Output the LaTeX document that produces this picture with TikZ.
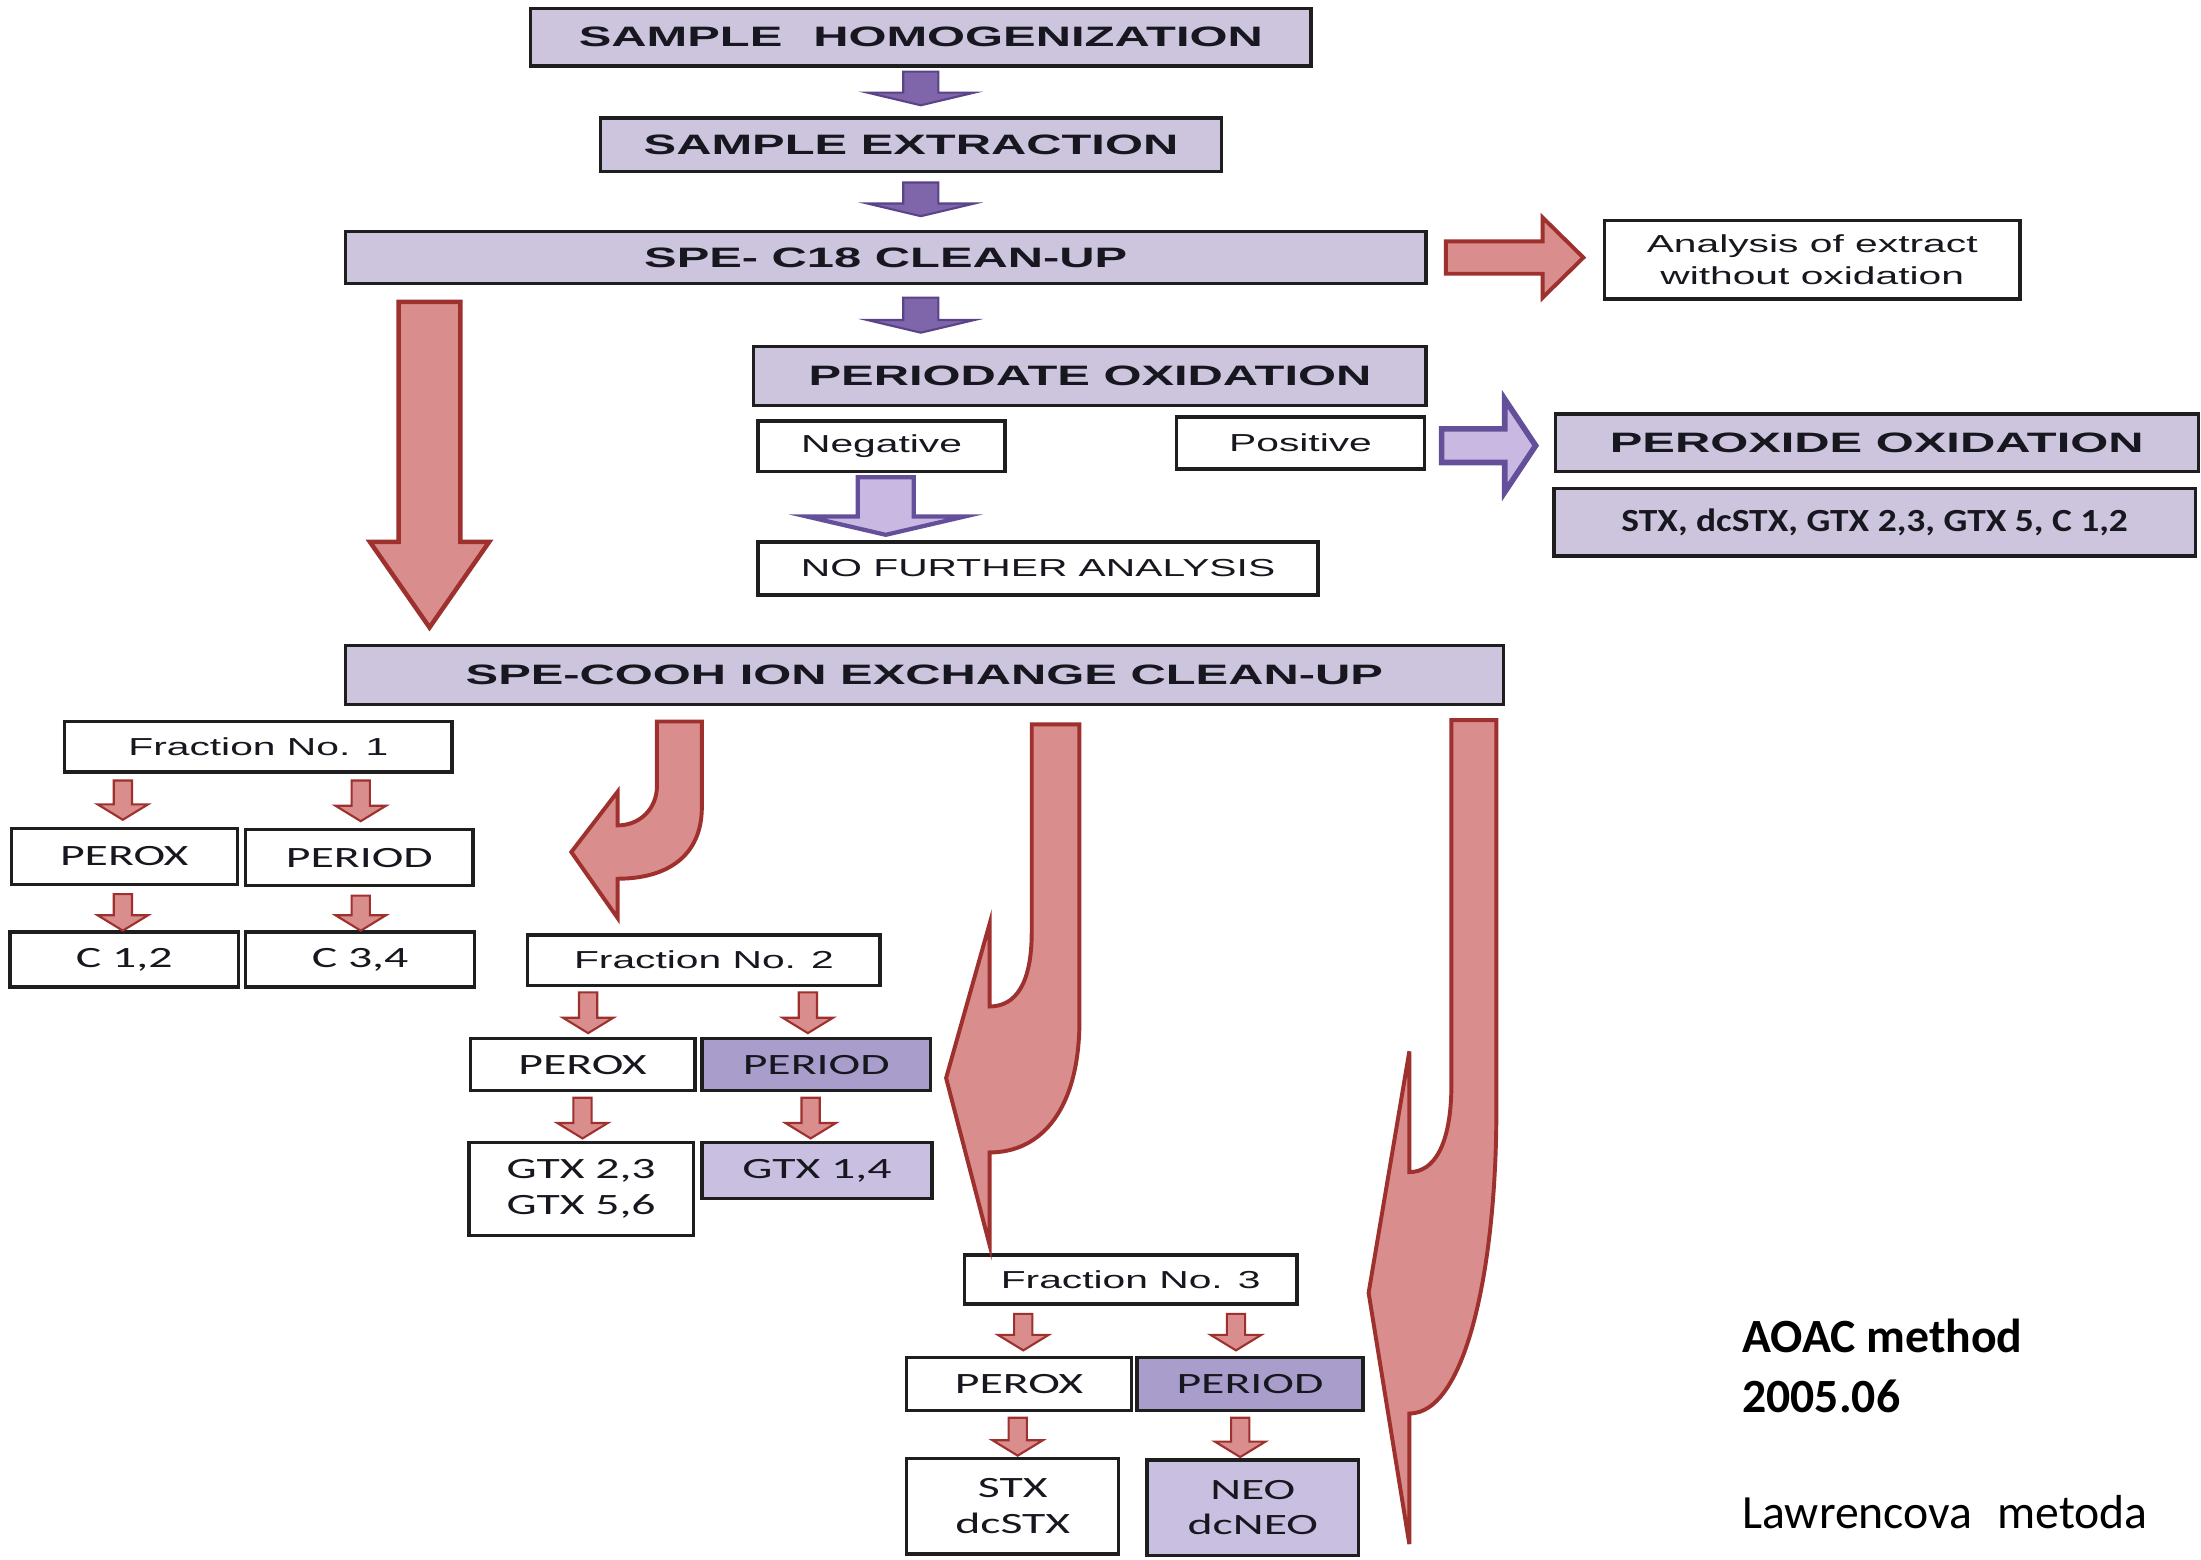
\documentclass[tikz,border=0pt]{standalone}
\usepackage{fontspec}
\setmainfont{Liberation Sans}
\newfontfamily\hdrfont[FakeStretch=1.74]{Liberation Sans}
\newfontfamily\lblfont[FakeStretch=1.66]{Liberation Sans}
\newfontfamily\calfont[FakeStretch=1.62]{Carlito}
\newfontfamily\listfont[FakeStretch=1.16]{Carlito}
\newfontfamily\notefont{Carlito}
\usetikzlibrary{calc}

\definecolor{boxline}{HTML}{1E1E1E}
\definecolor{ink}{HTML}{17171F}
\definecolor{lav}{HTML}{CDC4DD}
\definecolor{lavdark}{HTML}{A99DCB}
\definecolor{lavlight}{HTML}{C9BFE0}
\definecolor{redfill}{HTML}{D98E8D}
\definecolor{redline}{HTML}{9E302E}
\definecolor{purfill}{HTML}{7F66AB}
\definecolor{purline}{HTML}{5A4388}
\definecolor{purlight}{HTML}{C9B8E2}
\definecolor{purmid}{HTML}{64509A}

% vertical block arrow: shaft from #2 down to tip at the height of #3
\newcommand\blkdown[6]{%
  \path[#1] let \p1=#2, \p2=#3 in
    (\x1-#4,\y1) -- (\x1-#4,\y2+#6) -- (\x1-#5,\y2+#6) -- (\x1,\y2)
    -- (\x1+#5,\y2+#6) -- (\x1+#4,\y2+#6) -- (\x1+#4,\y1) -- cycle;}
% horizontal block arrow: shaft from #2 right to tip at the abscissa of #3
\newcommand\blkright[6]{%
  \path[#1] let \p1=#2, \p2=#3 in
    (\x1,\y1-#4) -- (\x2-#6,\y1-#4) -- (\x2-#6,\y1-#5) -- (\x2,\y1)
    -- (\x2-#6,\y1+#5) -- (\x2-#6,\y1+#4) -- (\x1,\y1+#4) -- cycle;}

\tikzset{
  box/.style={draw=boxline, line width=2.4pt, fill=lav, inner sep=0pt,
    outer sep=0pt, text=ink},
  wbox/.style={box, fill=white},
  dbox/.style={box, fill=lavdark},
  lbox/.style={box, fill=lavlight},
  hdr/.style={font=\hdrfont\bfseries\fontsize{20}{22}\selectfont},
  lbl/.style={font=\lblfont\fontsize{17.5}{23}\selectfont, align=center},
  cal/.style={font=\calfont\fontsize{21}{25.4}\selectfont, align=center},
  redsmall/.style={fill=redfill, draw=redline, line width=1.5pt},
  redbig/.style={fill=redfill, draw=redline, line width=2.8pt, line join=miter},
  pursmall/.style={fill=purfill, draw=purline, line width=1.5pt},
  purbig/.style={fill=purlight, draw=purmid, line width=3pt, line join=miter},
}

\begin{document}
\begin{tikzpicture}[x=1pt,y=-1pt]
\useasboundingbox[fill=white] (0,0) rectangle (1568,1111);

% main sequence
\node[box, hdr, minimum width=556pt, minimum height=41pt] (homog) at (656,26.5)
  {SAMPLE\hspace{1.1em}HOMOGENIZATION};
\node[box, hdr, minimum width=442pt, minimum height=38pt] (extr) at (649,103)
  {SAMPLE EXTRACTION};
\node[box, hdr, minimum width=770pt, minimum height=37pt] (c18) at (631,183.5)
  {SPE- C18 CLEAN-UP};
\node[wbox, lbl, minimum width=296pt, minimum height=56pt] (anal) at (1291,185)
  {Analysis of extract\\without oxidation};
\node[box, hdr, minimum width=479pt, minimum height=42pt] (perio) at (776.5,268)
  {PERIODATE OXIDATION};
\node[wbox, lbl, minimum width=176pt, minimum height=36pt] (neg) at (628,318)
  {Negative};
\node[wbox, lbl, minimum width=177pt, minimum height=37pt] (pos) at (926.5,315.5)
  {Positive};
\node[box, hdr, minimum width=458pt, minimum height=41pt] (perox) at (1337,315.5)
  {PEROXIDE OXIDATION};
\node[box, font=\listfont\bfseries\fontsize{23}{26}\selectfont,
  minimum width=457pt, minimum height=48pt] (toxlist) at (1335.5,372)
  {STX, dcSTX, GTX 2,3, GTX 5, C 1,2};
\node[wbox, lbl, minimum width=399pt, minimum height=38pt] (nofa) at (739.5,405)
  {NO FURTHER ANALYSIS};
\node[box, hdr, minimum width=825pt, minimum height=42pt] (cooh) at (658.5,481)
  {SPE-COOH ION EXCHANGE CLEAN-UP};

% fraction 1
\node[wbox, lbl, minimum width=276pt, minimum height=36pt] (fr1) at (184,532)
  {Fraction No. 1};
\node[wbox, cal, minimum width=161pt, minimum height=40pt] (px1) at (88.5,610) {PEROX};
\node[wbox, cal, minimum width=162pt, minimum height=40pt] (pd1) at (256,611) {PERIOD};
\node[wbox, cal, minimum width=163pt, minimum height=39pt] (c12) at (88.5,683.5) {C 1,2};
\node[wbox, cal, minimum width=163pt, minimum height=39pt] (c34) at (256.5,683.5) {C 3,4};

% fraction 2
\node[wbox, lbl, minimum width=251pt, minimum height=36pt] (fr2) at (501.5,684)
  {Fraction No. 2};
\node[wbox, cal, minimum width=160pt, minimum height=37pt] (px2) at (415,758.5) {PEROX};
\node[dbox, cal, minimum width=163pt, minimum height=37pt] (pd2) at (581.5,758.5) {PERIOD};
\node[wbox, cal, minimum width=160pt, minimum height=66pt] (gtxa) at (414,847)
  {GTX 2,3\\GTX 5,6};
\node[lbox, cal, minimum width=164pt, minimum height=40pt] (gtxb) at (582,834) {GTX 1,4};

% fraction 3
\node[wbox, lbl, minimum width=237pt, minimum height=35pt] (fr3) at (805.5,911.5)
  {Fraction No. 3};
\node[wbox, cal, minimum width=160pt, minimum height=38pt] (px3) at (726,986) {PEROX};
\node[dbox, cal, minimum width=161pt, minimum height=38pt] (pd3) at (890.5,986) {PERIOD};
\node[wbox, cal, minimum width=151pt, minimum height=68pt] (stx) at (721.5,1073)
  {STX\\dcSTX};
\node[lbox, cal, minimum width=151pt, minimum height=68pt] (neo) at (892.5,1074)
  {NEO\\dcNEO};

% note
\node[anchor=west, inner sep=0pt, align=left,
  font=\notefont\bfseries\fontsize{34}{43}\selectfont] (aoac) at (1241,973)
  {AOAC method\\2005.06};
\node[anchor=west, inner sep=0pt, font=\notefont\fontsize{34}{43}\selectfont]
  (lawr) at (1241,1077) {Lawrencova\hspace{0.3em} metoda};

% purple step arrows
\blkdown{pursmall}{($(homog.south)+(0,4)$)}{($(extr.north)+(0,-9)$)}{12.5pt}{38pt}{9pt}
\blkdown{pursmall}{($(extr.south -| homog.south)+(0,8)$)}{($(c18.north)+(0,-11)$)}{12.5pt}{38pt}{9pt}
\blkdown{pursmall}{($(c18.south -| homog.south)+(0,10)$)}{($(perio.north)+(0,-10)$)}{12.5pt}{38pt}{9pt}
\blkdown{purbig}{($(neg.south)+(3,4)$)}{($(nofa.north)+(0,-5)$)}{20pt}{56pt}{13pt}
\blkright{purbig, line width=4pt}{($(pos.east)+(12,2)$)}{($(perox.west)+(-14,0)$)}{12pt}{33pt}{22pt}

% red block arrows
\blkright{redbig}{($(c18.east)+(14,0)$)}{($(anal.west)+(-15,0)$)}{11.5pt}{28.5pt}{29pt}
\blkdown{redbig, line width=3.2pt}{($(c18.south west)+(60,13)$)}{($(cooh.north)+(0,-13)$)}{22pt}{42.5pt}{61pt}

% red curved arrows leaving the ion exchange clean-up
\path[redbig] (468,514) -- (500,514) -- (500,575)
  .. controls (500,610) and (475,626) .. (440,626) -- (440,654) -- (407,607)
  -- (440,564) -- (440,588) .. controls (456,588) and (468,576) .. (468,560) -- cycle;
\path[redbig] (735,516) -- (769,516) -- (769,727)
  .. controls (769,790) and (742,821) .. (705,821) -- (705,887) -- (674,768)
  -- (705,658) -- (705,717) .. controls (724,717) and (735,700) .. (735,664) -- cycle;
\path[redbig] (1034,513) -- (1066,513) -- (1066,792)
  .. controls (1066,900) and (1045,1007) .. (1004,1007) -- (1004,1100) -- (975,921)
  -- (1004,749) -- (1004,835) .. controls (1022,835) and (1034,815) .. (1034,772) -- cycle;

% small red arrows inside the fractions
\blkdown{redsmall}{($(fr1.south -| px1.north)+(-1,6)$)}{($(px1.north)+(0,-6)$)}{6.5pt}{18pt}{11pt}
\blkdown{redsmall}{($(fr1.south -| pd1.north)+(1,6)$)}{($(pd1.north)+(0,-6)$)}{6.5pt}{18pt}{11pt}
\blkdown{redsmall}{($(px1.south)+(-1,7)$)}{($(c12.north)+(0,-1)$)}{6.5pt}{18pt}{11pt}
\blkdown{redsmall}{($(pd1.south)+(1,7)$)}{($(c34.north)+(0,-1)$)}{6.5pt}{18pt}{11pt}

\blkdown{redsmall}{($(fr2.south -| px2.north)+(4,5)$)}{($(px2.north)+(0,-4)$)}{6.5pt}{18pt}{11pt}
\blkdown{redsmall}{($(fr2.south -| pd2.north)+(-6,5)$)}{($(pd2.north)+(0,-4)$)}{6.5pt}{18pt}{11pt}
\blkdown{redsmall}{($(px2.south)+(0,5)$)}{($(gtxa.north)+(0,-3)$)}{6.5pt}{18pt}{11pt}
\blkdown{redsmall}{($(pd2.south)+(-4,5)$)}{($(gtxb.north)+(0,-3)$)}{6.5pt}{18pt}{11pt}

\blkdown{redsmall}{($(fr3.south -| px3.north)+(3,7)$)}{($(px3.north)+(0,-5)$)}{6.5pt}{18pt}{11pt}
\blkdown{redsmall}{($(fr3.south -| pd3.north)+(-10,7)$)}{($(pd3.north)+(0,-5)$)}{6.5pt}{18pt}{11pt}
\blkdown{redsmall}{($(px3.south)+(-1,5)$)}{($(stx.north)+(0,-2)$)}{6.5pt}{18pt}{11pt}
\blkdown{redsmall}{($(pd3.south)+(-7,5)$)}{($(neo.north)+(0,-2)$)}{6.5pt}{18pt}{11pt}
\end{tikzpicture}
\end{document}
